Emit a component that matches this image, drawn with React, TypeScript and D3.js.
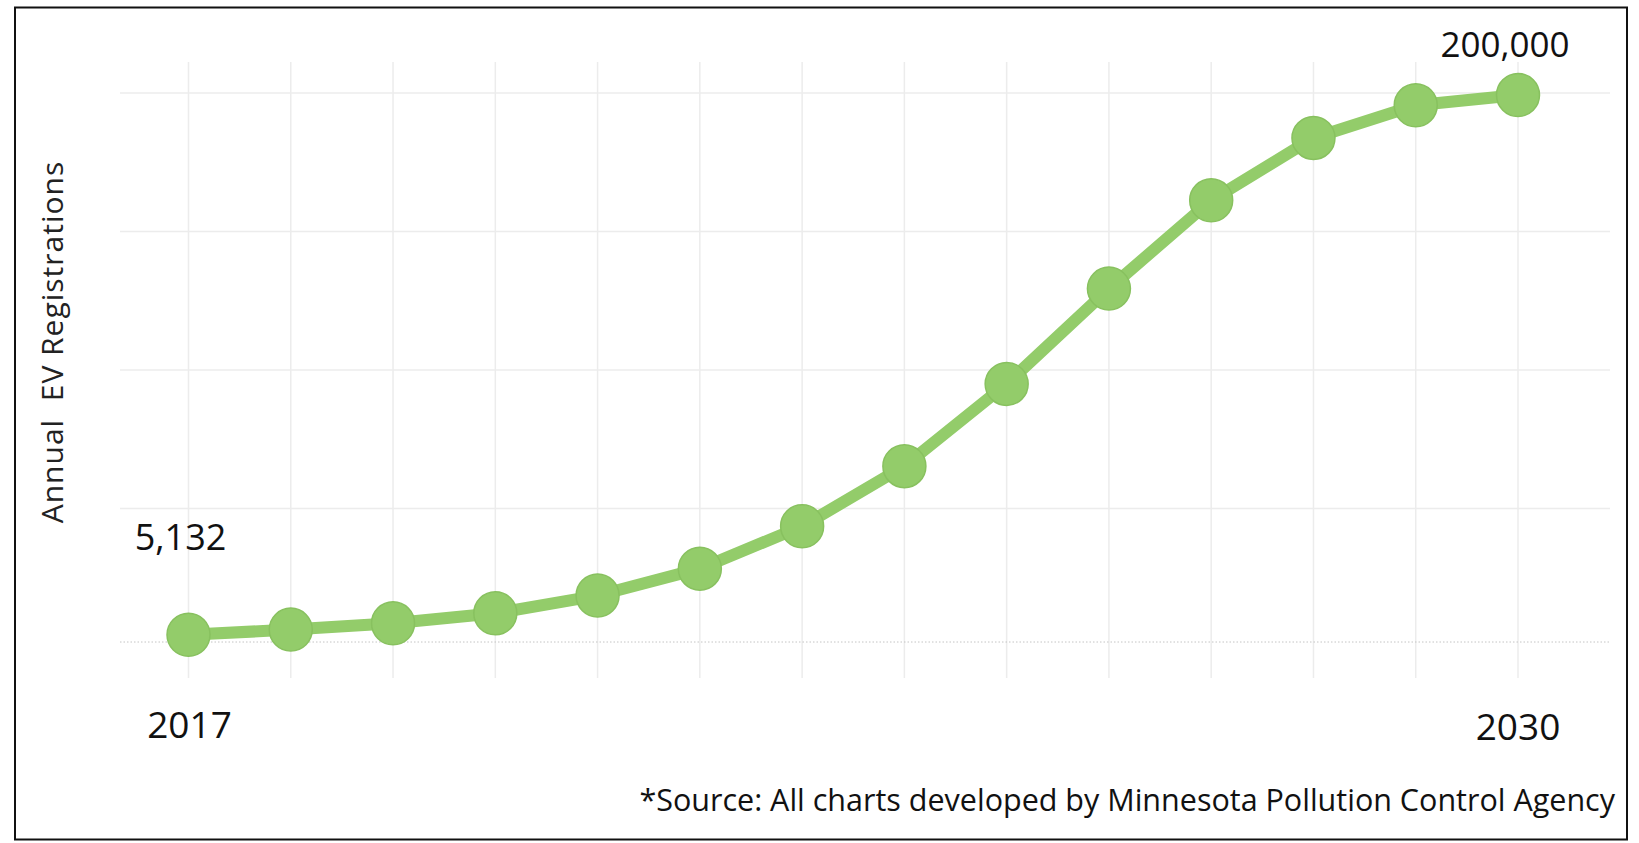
import * as d3 from "d3";

const years = [2017, 2018, 2019, 2020, 2021, 2022, 2023, 2024, 2025, 2026, 2027, 2028, 2029, 2030];
const registrations = [5132, 7000, 9300, 12900, 19300, 29000, 44300, 66000, 95700, 130100, 162000, 184500, 196300, 200000];
const gridValues = [0, 50000, 100000, 150000, 200000];
const yTitle = "Annual\u00a0\u00a0EV Registrations";
const sourceNote = "*Source: All charts developed by Minnesota Pollution Control Agency";

const W = 1639, H = 843;
const green = "#93cc6a";
const font = "'Open Sans', 'Noto Sans', sans-serif";

export default function App() {
    const x = d3.scaleLinear()
        .domain([years[0], years[years.length - 1]])
        .range([188.5, 1518])
    const y = d3.scaleLinear()
        .domain([0, 200000])
        .range([649, 95])

    const data = years.map((yr, i) => ({ year: yr, value: registrations[i] }))
    const line = d3.line<{ year: number, value: number }>()
        .x(d => x(d.year))
        .y(d => y(d.value))

    const first = data[0], last = data[data.length - 1]
    const fmt = d3.format(",")

    return (
        <svg width={W} height={H} style={{ position: "absolute", left: 0, top: 0, background: "#fff" }}
            fontFamily={font}>
            <rect x={0} y={0} width={W} height={H} fill="#fff" />
            <rect x={15} y={7.5} width={1612} height={832} fill="none" stroke="#111" strokeWidth={2} />

            {/* vertical grid */}
            {years.map(yr => (
                <line key={"v" + yr} x1={x(yr)} x2={x(yr)} y1={62} y2={678}
                    stroke="#ececec" strokeWidth={1.5} />
            ))}
            {/* horizontal grid, baseline dotted */}
            {gridValues.map(v => v === 0 ? (
                <line key={"h" + v} x1={120} x2={1610} y1={y(v) - 7} y2={y(v) - 7}
                    stroke="#c4c4c4" strokeWidth={1} strokeDasharray="1.5,2" />
            ) : (
                <line key={"h" + v} x1={120} x2={1610} y1={y(v) - 2} y2={y(v) - 2}
                    stroke="#ececec" strokeWidth={1.5} />
            ))}

            <path d={line(data) || ""} fill="none" stroke={green} strokeWidth={12} strokeLinejoin="round" />
            {data.map(d => (
                <circle key={d.year} cx={x(d.year)} cy={y(d.value)} r={21.5}
                    fill={green} stroke="#88c15f" strokeWidth={1.5} />
            ))}

            <text x={x(first.year) - 8} y={y(first.value) - 85} textAnchor="middle" fontSize={36} fill="#111">
                {fmt(first.value)}
            </text>
            <text x={x(last.year) - 13} y={y(last.value) - 38} textAnchor="middle" fontSize={35} fill="#111">
                {fmt(last.value)}
            </text>

            <text x={x(first.year) + 1} y={738} textAnchor="middle" fontSize={37} fill="#111">{first.year}</text>
            <text x={x(last.year)} y={740} textAnchor="middle" fontSize={37} fill="#111">{last.year}</text>

            <text transform="translate(63,342) rotate(-90)" textAnchor="middle" fontSize={30}
                letterSpacing={1} fill="#222">{yTitle}</text>

            <text x={1615} y={811} textAnchor="end" fontSize={30.5} fill="#111">{sourceNote}</text>
        </svg>
    )
}
